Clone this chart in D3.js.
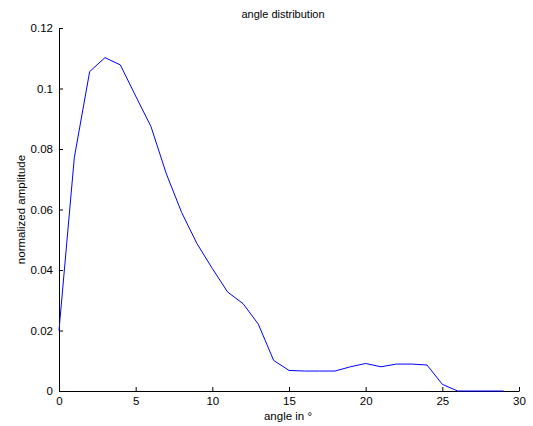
<!DOCTYPE html>
<html>
<head>
<meta charset="utf-8">
<script src="https://cdn.jsdelivr.net/npm/d3@7"></script>
<style>
  body { margin: 0; background: #fff; }
  text { font-family: "Liberation Sans", Arial, sans-serif; fill: #000; }
</style>
</head>
<body>
<svg width="533" height="426"></svg>
<script>
const svg = d3.select("svg"),
      width = +svg.attr("width"),
      height = +svg.attr("height");

// angle in degrees, normalized amplitude
const angles = [0, 1, 2, 3, 4, 5, 6, 7, 8, 9, 10, 11, 12, 13, 14, 15, 16, 17, 18, 19, 20, 21, 22, 23, 24, 25, 26, 27, 28, 29];
const amplitudes = [0.020, 0.0772, 0.1056, 0.1102, 0.1078, 0.0975, 0.0874, 0.0718, 0.0590, 0.0487,
                    0.0405, 0.0327, 0.0289, 0.0221, 0.0101, 0.0068, 0.0066, 0.0066, 0.0066, 0.0080,
                    0.0091, 0.0080, 0.0089, 0.0089, 0.0086, 0.0022, 0, 0, 0, 0];
const xTicks = [0, 5, 10, 15, 20, 25, 30];
const yTicks = [0, 0.02, 0.04, 0.06, 0.08, 0.1, 0.12];
const yTickLabels = ["0", "0.02", "0.04", "0.06", "0.08", "0.1", "0.12"];

const margin = {left: 59, right: 14, top: 28, bottom: 35};

const x = d3.scaleLinear().domain([0, 30]).range([margin.left, width - margin.right]);
const y = d3.scaleLinear().domain([0, 0.12]).range([height - margin.bottom, margin.top]);

const xAxis = d3.axisBottom(x)
  .tickValues(xTicks)
  .tickSizeInner(-4)
  .tickSizeOuter(0)
  .tickPadding(6);

const yAxis = d3.axisLeft(y)
  .tickValues(yTicks)
  .tickFormat((d, i) => yTickLabels[i])
  .tickSizeInner(-4)
  .tickSizeOuter(0)
  .tickPadding(6);

const gx = svg.append("g")
  .attr("transform", `translate(0,${height - margin.bottom})`)
  .call(xAxis);
const gy = svg.append("g")
  .attr("transform", `translate(${margin.left},0)`)
  .call(yAxis);

[gx, gy].forEach(g => {
  g.selectAll("text").style("font-size", "11.5px").attr("font-family", null);
  g.select(".domain").attr("stroke", "#000");
  g.selectAll(".tick line").attr("stroke", "#000");
});

const line = d3.line()
  .x((d, i) => x(angles[i]))
  .y(d => y(d));

svg.append("path")
  .datum(amplitudes)
  .attr("fill", "none")
  .attr("stroke", "#0000ff")
  .attr("stroke-width", 1)
  .attr("d", line);

// title and axis labels
svg.append("text")
  .attr("x", 283)
  .attr("y", 18)
  .attr("text-anchor", "middle")
  .style("font-size", "11px")
  .text("angle distribution");

svg.append("text")
  .attr("x", 288)
  .attr("y", 420)
  .attr("text-anchor", "middle")
  .style("font-size", "11.5px")
  .text("angle in °");

svg.append("text")
  .attr("transform", `translate(25,${(y(0) + y(0.12)) / 2}) rotate(-90)`)
  .attr("text-anchor", "middle")
  .style("font-size", "11.5px")
  .text("normalized amplitude");
</script>
</body>
</html>
